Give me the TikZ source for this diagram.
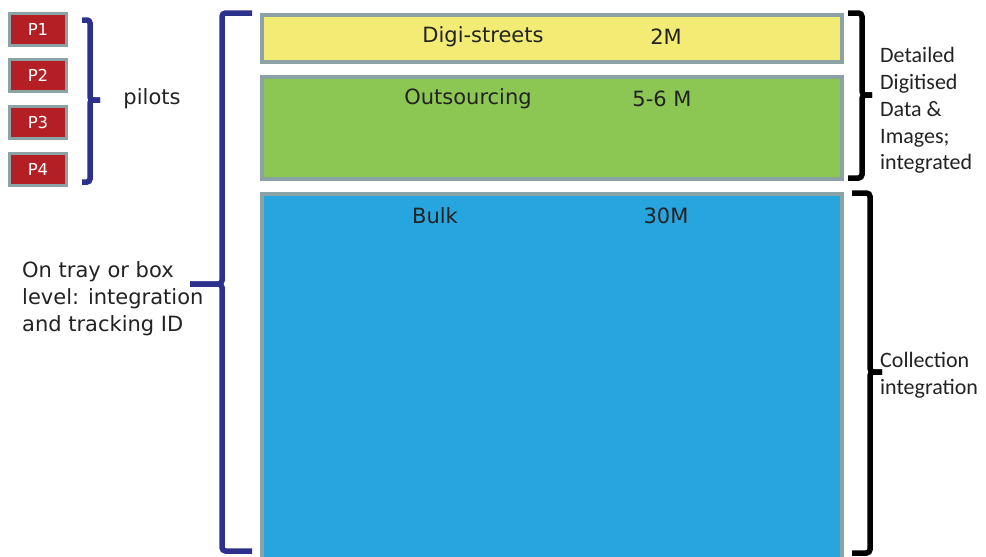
\documentclass[tikz,border=0pt]{standalone}
\usepackage{fontspec}
\newfontfamily\vfont{DejaVu Sans}
\newfontfamily\cfont{Carlito}
\usetikzlibrary{positioning}

\definecolor{boxgray}{HTML}{8BA3A5}
\definecolor{pilotred}{HTML}{B41F25}
\definecolor{digiyellow}{HTML}{F2EC74}
\definecolor{outgreen}{HTML}{8DC753}
\definecolor{bulkblue}{HTML}{27A5DF}
\definecolor{bracenavy}{HTML}{2B318C}
\definecolor{textgray}{HTML}{222222}

\tikzset{
  pilotbox/.style={draw=boxgray, fill=pilotred, line width=3pt, minimum width=57pt,
    minimum height=32pt, inner sep=0pt, text=white, font=\vfont\fontsize{16.5}{18}\selectfont},
  databox/.style={draw=boxgray, line width=4pt, anchor=north west, minimum width=580pt, inner sep=0pt},
  boxlabel/.style={font=\vfont\fontsize{21}{27}\selectfont, text=textgray, inner sep=0pt},
  sidelabel/.style={font=\cfont\fontsize{22}{26.8}\selectfont, text=textgray, align=left,
    anchor=west, inner sep=0pt},
  bracket/.style={line width=5.5pt, rounded corners=3.5pt}
}

\begin{document}
\begin{tikzpicture}[x=1pt, y=-1pt]
  \useasboundingbox (0,0) rectangle (986,557);

  % pilots
  \foreach \i in {1,...,4}
    \node[pilotbox] (p\i) at ({38},{29+46.8*(\i-1)}) {P\i};

  \draw[bracket, bracenavy, rounded corners=3pt] (82,20) -- (90,20) -- (90,100) -- (100,100);
  \draw[bracket, bracenavy, rounded corners=3pt] (100,100) -- (90,100) -- (90,182) -- (82,182);
  \node[boxlabel] (pilots) at (152,99) {pilots};

  % the three streams
  \node[databox, fill=digiyellow, minimum height=47pt] (digi) at (260,13) {};
  \node[databox, fill=outgreen, minimum height=102pt] (outs) at (260,75) {};
  \node[databox, fill=bulkblue, minimum height=372pt] (bulk) at (260,192) {};

  \node[boxlabel] (diginame) at (483,37) {Digi-streets};
  \node[boxlabel] (digicount) at (666,37) {2M};
  \node[boxlabel] (outsname) at (468,99) {Outsourcing};
  \node[boxlabel] (outscount) at (662,99) {5-6 M};
  \node[boxlabel] (bulkname) at (435,216) {Bulk};
  \node[boxlabel] (bulkcount) at (666,216) {30M};

  % left brace
  \draw[bracket, bracenavy] (252,13) -- (222,13) -- (222,284) -- (190,284);
  \draw[bracket, bracenavy] (190,284) -- (222,284) -- (222,551) -- (252,551);
  \node[boxlabel, align=left, anchor=west] (traylevel) at (22,299)
    {On tray or box\\level: integration\\and tracking ID};

  % right braces
  \draw[bracket] (848,13) -- (862,13) -- (862,95) -- (872,95);
  \draw[bracket] (872,95) -- (862,95) -- (862,178) -- (848,178);
  \node[sidelabel] (detailed) at (880,110.5)
    {Detailed\\Digitised\\Data \&\\Images;\\integrated};

  \draw[bracket] (852,193) -- (870,193) -- (870,372) -- (882,372);
  \draw[bracket] (882,372) -- (870,372) -- (870,553) -- (852,553);
  \node[sidelabel] (collection) at (880,375) {Collection\\integration};
\end{tikzpicture}
\end{document}
